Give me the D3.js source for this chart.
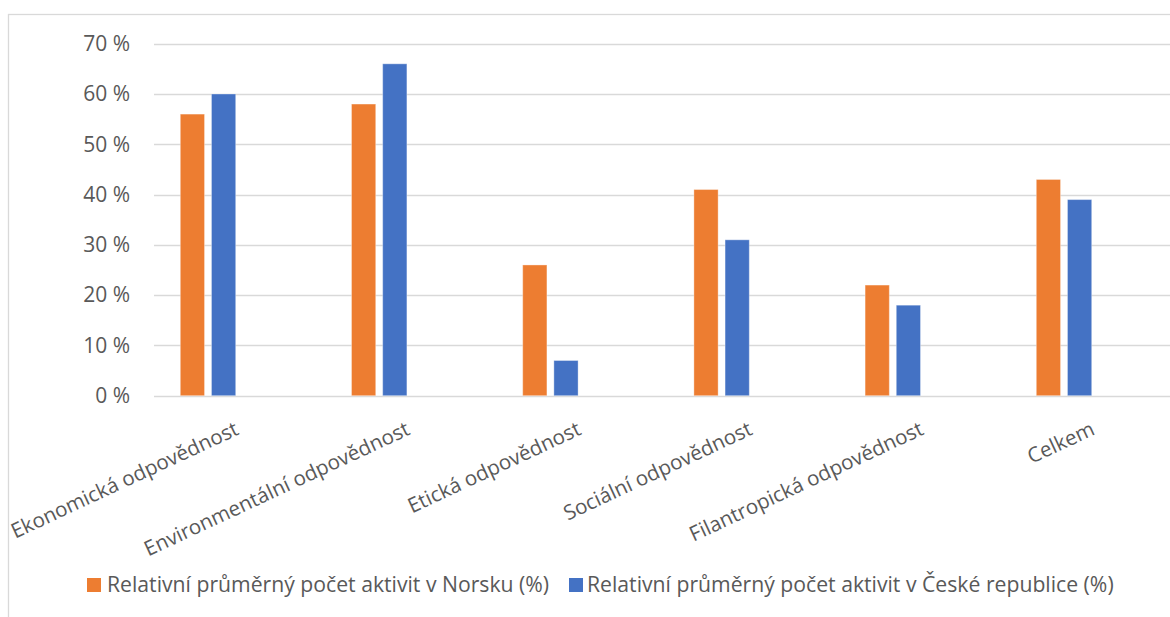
<!DOCTYPE html>
<html>
<head>
<meta charset="utf-8">
<script src="https://cdn.jsdelivr.net/npm/d3@7"></script>
<style>
  html, body { margin: 0; padding: 0; background: #fff; }
  svg { display: block; font-family: "Open Sans", "Noto Sans", sans-serif; }
</style>
</head>
<body>
<svg id="chart" width="1170" height="617"></svg>
<script>
// Categories of corporate responsibility
const categories = [
  "Ekonomická odpovědnost",
  "Environmentální odpovědnost",
  "Etická odpovědnost",
  "Sociální odpovědnost",
  "Filantropická odpovědnost",
  "Celkem"
];
// Series names (legend)
const seriesNames = [
  "Relativní průměrný počet aktivit v Norsku (%)",
  "Relativní průměrný počet aktivit v České republice (%)"
];
// Values in percent
const norway = [56, 58, 26, 41, 22, 43];
const czech = [60, 66, 7, 31, 18, 39];
// Y-axis ticks
const yTicks = [0, 10, 20, 30, 40, 50, 60, 70];

const colors = ["#ED7D31", "#4472C4"];
const textColor = "#595959";
const gridColor = "#d9d9d9";

const svg = d3.select("#chart");

// Outer chart frame
svg.append("rect")
  .attr("x", 8.5).attr("y", 14.5)
  .attr("width", 1200).attr("height", 700)
  .attr("fill", "#fff")
  .attr("stroke", gridColor).attr("stroke-width", 1.3);

const plotLeft = 154, plotRight = 1170;
const y = d3.scaleLinear().domain([0, 70]).range([395.7, 43.7]);
const x = d3.scaleBand().domain(categories).range([122.4, 1149.6]).padding(0);
const xInner = d3.scaleBand().domain([0, 1]).range([-27.7, 27.7]).paddingInner(0.223);

// Gridlines
svg.append("g")
  .selectAll("line")
  .data(yTicks)
  .join("line")
  .attr("x1", plotLeft).attr("x2", plotRight)
  .attr("y1", d => Math.round(y(d)) + 0.5)
  .attr("y2", d => Math.round(y(d)) + 0.5)
  .attr("stroke", gridColor)
  .attr("stroke-width", 1.3);

// Y axis labels
const yAxis = d3.axisLeft(y)
  .tickValues(yTicks)
  .tickFormat(d => d + "\u00a0%")
  .tickSize(0)
  .tickPadding(24);
const gy = svg.append("g").attr("transform", `translate(${plotLeft},0)`).call(yAxis);
gy.select(".domain").remove();
gy.selectAll("text")
  .attr("fill", textColor)
  .style("font-size", "21px")
  .style("font-family", "'Open Sans', sans-serif");

// Bars
const data = categories.map((c, i) => ({ cat: c, vals: [norway[i], czech[i]] }));
const groups = svg.append("g")
  .selectAll("g")
  .data(data)
  .join("g")
  .attr("transform", d => `translate(${x(d.cat) + x.bandwidth() / 2},0)`);
groups.selectAll("rect")
  .data(d => d.vals.map((v, k) => ({ v, k })))
  .join("rect")
  .attr("x", d => xInner(d.k))
  .attr("width", xInner.bandwidth())
  .attr("y", d => y(d.v))
  .attr("height", d => y(0) - y(d.v))
  .attr("fill", d => colors[d.k])
  .attr("stroke", "#fff")
  .attr("stroke-opacity", 0.35)
  .attr("stroke-width", 1);

// Rotated category labels
svg.append("g")
  .selectAll("text")
  .data(categories)
  .join("text")
  .attr("transform", d => `translate(${x(d) + x.bandwidth() / 2 + 32},434) rotate(-25)`)
  .attr("text-anchor", "end")
  .attr("fill", textColor)
  .style("font-size", "20.6px")
  .text(d => d);

// Legend
const legendPos = [{ sx: 87, tx: 107 }, { sx: 569, tx: 587 }];
const legend = svg.append("g")
  .selectAll("g")
  .data(seriesNames)
  .join("g");
legend.append("rect")
  .attr("x", (d, i) => legendPos[i].sx)
  .attr("y", 578)
  .attr("width", 14).attr("height", 14)
  .attr("fill", (d, i) => colors[i]);
legend.append("text")
  .attr("x", (d, i) => legendPos[i].tx)
  .attr("y", 592)
  .attr("fill", textColor)
  .style("font-size", "21.2px")
  .text(d => d);
</script>
</body>
</html>
